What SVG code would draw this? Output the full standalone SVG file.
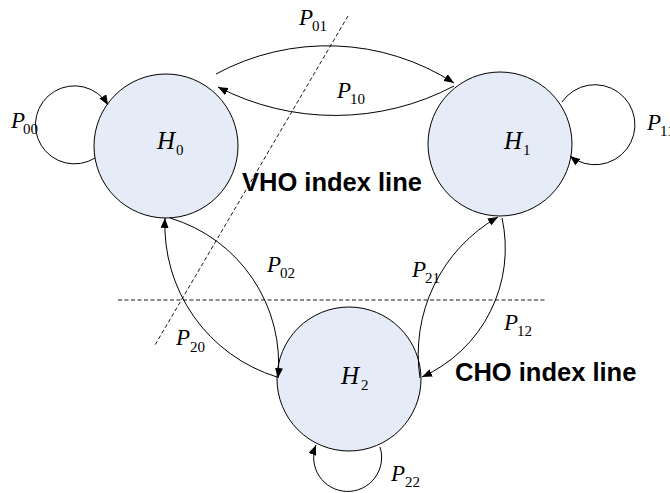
<svg xmlns="http://www.w3.org/2000/svg" width="670" height="493" viewBox="0 0 670 493">
<style>
.node{fill:#E6ECF7;stroke:#000;stroke-width:1}
.edge{fill:none;stroke:#000;stroke-width:1;marker-end:url(#arr)}
.idx{fill:none;stroke:#000;stroke-width:0.9;stroke-dasharray:4 2.5}
.v{font-family:"Liberation Serif","Times New Roman",serif;font-style:italic;font-size:23px}
.h{font-family:"Liberation Serif","Times New Roman",serif;font-style:italic;font-size:25px}
.s{font-family:"Liberation Serif","Times New Roman",serif;font-size:15px}
.lbl{font-family:"Liberation Sans",Arial,sans-serif;font-weight:bold;font-size:25.5px}
</style>
<defs>
<marker id="arr" viewBox="0 0 10 8" refX="10" refY="4" markerWidth="10" markerHeight="8" markerUnits="userSpaceOnUse" orient="auto">
<path d="M0,0 L10,4 L0,8 z" fill="#000"/>
</marker>
</defs>
<g id="index-lines">
<line class="idx" x1="348" y1="16" x2="155" y2="345"/>
<line class="idx" x1="118" y1="300" x2="547" y2="300"/>
<text class="lbl" x="242" y="191">VHO index line</text>
<text class="lbl" x="455" y="381">CHO index line</text>
</g>
<g id="H0">
<circle class="node" cx="166" cy="146" r="72"/>
<text x="157" y="149"><tspan class="h">H</tspan><tspan class="s" x="176" y="155">0</tspan></text>
</g>
<g id="H1">
<circle class="node" cx="500" cy="144" r="72"/>
<text x="504" y="149"><tspan class="h">H</tspan><tspan class="s" x="523" y="155">1</tspan></text>
</g>
<g id="H2">
<circle class="node" cx="349" cy="379" r="72"/>
<text x="341" y="384"><tspan class="h">H</tspan><tspan class="s" x="361" y="390">2</tspan></text>
</g>
<g id="connectors">
<path class="edge" d="M95,158 A39,39 0 1 1 108,105"/>
<path class="edge" d="M562,102 A40,40 0 1 1 570,156"/>
<path class="edge" d="M380,447 A34,34 0 1 1 316,445"/>
<path class="edge" d="M216,74 A234,234 0 0 1 454,83"/>
<path class="edge" d="M454,86 A255,255 0 0 1 218,87"/>
<path class="edge" d="M170,218 A152,152 0 0 1 278,378"/>
<path class="edge" d="M277,377 A159,159 0 0 1 165,218"/>
<path class="edge" d="M420,378 A158,158 0 0 1 498,217"/>
<path class="edge" d="M502,218 A141,141 0 0 1 422,377"/>
</g>
<g id="edge-labels">
<text x="11" y="128"><tspan class="v">P</tspan><tspan class="s" x="23" y="134">00</tspan></text>
<text x="299" y="25"><tspan class="v">P</tspan><tspan class="s" x="312" y="31">01</tspan></text>
<text x="337" y="98"><tspan class="v">P</tspan><tspan class="s" x="350" y="104">10</tspan></text>
<text x="647" y="130"><tspan class="v">P</tspan><tspan class="s" x="660" y="136">11</tspan></text>
<text x="267" y="272"><tspan class="v">P</tspan><tspan class="s" x="280" y="278">02</tspan></text>
<text x="176" y="345"><tspan class="v">P</tspan><tspan class="s" x="190" y="352">20</tspan></text>
<text x="412" y="277"><tspan class="v">P</tspan><tspan class="s" x="425" y="283">21</tspan></text>
<text x="504" y="330"><tspan class="v">P</tspan><tspan class="s" x="517" y="336">12</tspan></text>
<text x="391" y="481"><tspan class="v">P</tspan><tspan class="s" x="405" y="487">22</tspan></text>
</g>
</svg>
